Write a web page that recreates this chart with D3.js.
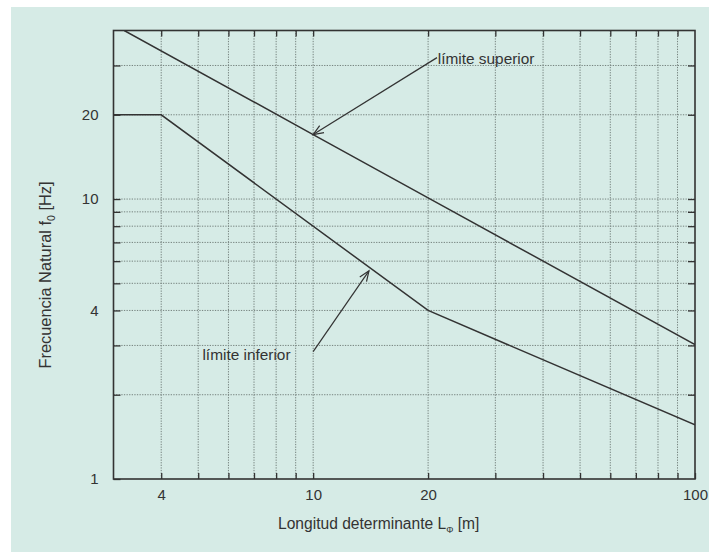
<!DOCTYPE html>
<html>
<head>
<meta charset="utf-8">
<script src="https://cdn.jsdelivr.net/npm/d3@7"></script>
<style>
  html, body { margin: 0; padding: 0; background: #ffffff; }
  svg { display: block; }
  text { font-family: "Liberation Sans", Arial, Helvetica, sans-serif; fill: #333; }
</style>
</head>
<body>
<script>
// Natural frequency limits vs. determinant length (log-log)
const upperL = [3.2, 10, 20, 100];
const upperF = [40, 17.0, 10.1, 3.02];

const lowerL = [3, 4, 20, 100];
const lowerF = [20, 20, 4, 1.56];

// grid / tick values and labels
const xGridValues = [4, 5, 6, 7, 8, 9, 10, 20, 30, 40, 50, 60, 70, 80, 90];
const xTickLabels = [4, 10, 20, 100];
const yGridValues = [2, 3, 4, 5, 6, 7, 8, 9, 10, 20, 30];
const yTickLabels = [1, 4, 10, 20];

// annotation texts and leader lines (data units)
const noteText = ["límite superior", "límite inferior"];
const noteAnchor = [[21.2, 30.3], [5.13, 2.66]];
const noteFrom = [[21.1, 32.0], [10.0, 2.85]];
const noteTo = [[10.0, 17.0], [14.0, 5.54]];

const W = 709, H = 552;
const plot = { left: 113.5, right: 695, top: 30.5, bottom: 479 };

const svg = d3.select("body").append("svg")
  .attr("width", W).attr("height", H);

// panel background
svg.append("rect").attr("x", 11).attr("y", 7).attr("width", W - 11).attr("height", H - 7)
  .attr("fill", "#d6ebe6");

const x = d3.scaleLog().domain([3, 100]).range([plot.left, plot.right]);
const y = d3.scaleLog().domain([1, 40]).range([plot.bottom, plot.top]);

svg.append("clipPath").attr("id", "clip")
  .append("rect").attr("x", plot.left).attr("y", plot.top)
  .attr("width", plot.right - plot.left).attr("height", plot.bottom - plot.top);

// dotted grid
const grid = svg.append("g").attr("stroke", "#76837f").attr("stroke-width", 1)
  .attr("stroke-dasharray", "1.3,1.3");
grid.selectAll("line.vx").data(xGridValues).join("line")
  .attr("x1", d => x(d)).attr("x2", d => x(d))
  .attr("y1", plot.top).attr("y2", plot.bottom);
grid.selectAll("line.hy").data(yGridValues).join("line")
  .attr("x1", plot.left).attr("x2", plot.right)
  .attr("y1", d => y(d)).attr("y2", d => y(d));

// axes with inward ticks
const tickFmt = labels => d => labels.includes(d) ? String(d) : "";
const xAllTicks = xGridValues.concat([100]);
const yAllTicks = [1].concat(yGridValues);

function styleAxis(g) {
  g.select(".domain").remove();
  g.selectAll(".tick line").attr("stroke", "#333").attr("stroke-width", 1.3);
  g.selectAll(".tick text").attr("font-size", 15).attr("fill", "#333")
    .attr("font-family", "Liberation Sans, Arial, sans-serif");
}

svg.append("g").attr("transform", `translate(0,${plot.bottom})`)
  .call(d3.axisBottom(x).tickValues(xAllTicks).tickFormat(tickFmt(xTickLabels))
    .tickSizeInner(-6).tickSizeOuter(0).tickPadding(10))
  .call(styleAxis);
svg.append("g").attr("transform", `translate(0,${plot.top})`)
  .call(d3.axisTop(x).tickValues(xGridValues).tickFormat("")
    .tickSizeInner(-6).tickSizeOuter(0))
  .call(styleAxis);
svg.append("g").attr("transform", `translate(${plot.left},0)`)
  .call(d3.axisLeft(y).tickValues(yAllTicks).tickFormat(tickFmt(yTickLabels))
    .tickSizeInner(-7).tickSizeOuter(0).tickPadding(15))
  .call(styleAxis);
svg.append("g").attr("transform", `translate(${plot.right},0)`)
  .call(d3.axisRight(y).tickValues(yGridValues).tickFormat("")
    .tickSizeInner(-7).tickSizeOuter(0))
  .call(styleAxis);

// frame
svg.append("rect").attr("x", plot.left).attr("y", plot.top)
  .attr("width", plot.right - plot.left).attr("height", plot.bottom - plot.top)
  .attr("fill", "none").attr("stroke", "#333").attr("stroke-width", 1.6);

// limit curves
const line = d3.line().x(d => x(d[0])).y(d => y(d[1]));
const curves = svg.append("g").attr("clip-path", "url(#clip)")
  .attr("fill", "none").attr("stroke", "#333").attr("stroke-width", 1.5);
curves.append("path").attr("d", line(d3.zip(upperL, upperF)));
curves.append("path").attr("d", line(d3.zip(lowerL, lowerF)));

// annotations with open arrowheads
const notes = svg.append("g");
noteText.forEach((t, i) => {
  notes.append("text").attr("x", x(noteAnchor[i][0])).attr("y", y(noteAnchor[i][1]))
    .attr("font-size", 15.4).text(t);
  const x1 = x(noteFrom[i][0]), y1 = y(noteFrom[i][1]);
  const x2 = x(noteTo[i][0]), y2 = y(noteTo[i][1]);
  notes.append("line").attr("x1", x1).attr("y1", y1).attr("x2", x2).attr("y2", y2)
    .attr("stroke", "#333").attr("stroke-width", 1.2);
  const ang = Math.atan2(y1 - y2, x1 - x2);
  const len = 11, spread = 0.38;
  const head = [ang - spread, ang + spread].map(a => [x2 + len * Math.cos(a), y2 + len * Math.sin(a)]);
  notes.append("path")
    .attr("d", `M${head[0][0]},${head[0][1]}L${x2},${y2}L${head[1][0]},${head[1][1]}`)
    .attr("fill", "none").attr("stroke", "#333").attr("stroke-width", 1.2);
});

// axis titles
const yTitle = svg.append("text")
  .attr("transform", "translate(51,275) rotate(-90)")
  .attr("text-anchor", "middle").attr("font-size", 16.4);
yTitle.append("tspan").text("Frecuencia Natural f");
yTitle.append("tspan").attr("font-size", 10.5).attr("dy", 4).text("0");
yTitle.append("tspan").attr("dy", -4).text(" [Hz]");

const xTitle = svg.append("text")
  .attr("x", 278).attr("y", 529).attr("font-size", 15.6);
xTitle.append("tspan").text("Longitud determinante L");
xTitle.append("tspan").attr("font-size", 9).attr("dy", 4).text("Φ");
xTitle.append("tspan").attr("dy", -4).text(" [m]");
</script>
</body>
</html>
